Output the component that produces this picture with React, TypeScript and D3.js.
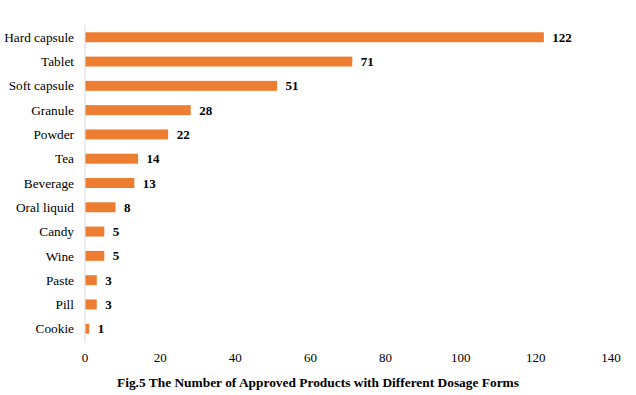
import React from 'react';
import * as d3 from 'd3';

const categories = ['Hard capsule', 'Tablet', 'Soft capsule', 'Granule', 'Powder', 'Tea', 'Beverage', 'Oral liquid', 'Candy', 'Wine', 'Paste', 'Pill', 'Cookie'];
const counts = [122, 71, 51, 28, 22, 14, 13, 8, 5, 5, 3, 3, 1];
const xTicks = [0, 20, 40, 60, 80, 100, 120, 140];

const width = 636;
const height = 395;
const font = '"Liberation Serif", "Times New Roman", serif';

export default function App() {
  const x = d3.scaleLinear().domain([0, 140]).range([85, 611]);
  const y = d3.scaleBand().domain(categories).range([25, 341]).paddingInner(0.59).paddingOuter(0.3);

  return (
    <svg width={width} height={height} style={{ position: 'absolute', left: 0, top: 0, fontFamily: font }}>
      <rect width={width} height={height} fill="#fff" />
      <line x1={x(0)} x2={x(0)} y1={25} y2={343} stroke="#d9d9d9" strokeWidth={1} />
      {categories.map((c, i) => {
        const yy = y(c)!;
        const cy = yy + y.bandwidth() / 2;
        return (
          <g key={c}>
            <rect x={x(0) + 0.5} y={yy} width={x(counts[i]) - x(0)} height={y.bandwidth()} fill="#ED7D31" />
            <text x={74} y={cy} dy="0.35em" textAnchor="end" fontSize={13.3} fill="#000">{c}</text>
            <text x={x(counts[i]) + 9} y={cy} dy="0.35em" fontSize={13} fontWeight="bold" fill="#000">{counts[i]}</text>
          </g>
        );
      })}
      {xTicks.map(t => (
        <text key={t} x={x(t)} y={357} dy="0.35em" textAnchor="middle" fontSize={13} fill="#000">{t}</text>
      ))}
      <text x={318} y={382} dy="0.35em" textAnchor="middle" fontSize={13.4} fontWeight="bold" fill="#000">
        Fig.5 The Number of Approved Products with Different Dosage Forms
      </text>
    </svg>
  );
}
